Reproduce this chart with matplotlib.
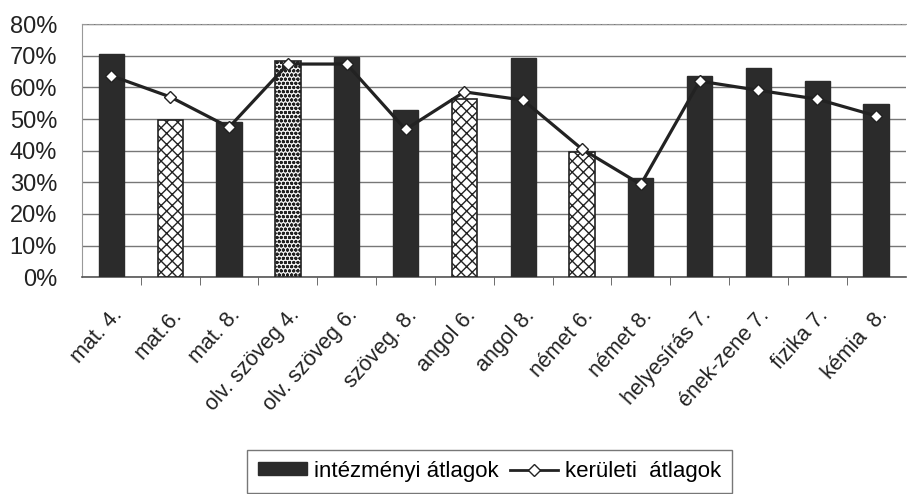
import matplotlib
matplotlib.use('Agg')
import matplotlib.pyplot as plt
import numpy as np
from matplotlib.ticker import FuncFormatter, FixedLocator
from matplotlib.lines import Line2D
from matplotlib.patches import Patch

plt.rcParams['font.family'] = ['Liberation Sans', 'DejaVu Sans']
plt.rcParams['hatch.linewidth'] = 1.0

categories = ['mat. 4.', 'mat.6.', 'mat. 8.', 'olv. szöveg 4.', 'olv. szöveg 6.',
              'szöveg. 8.', 'angol 6.', 'angol 8.', 'német 6.', 'német 8.',
              'helyesírás 7.', 'ének-zene 7.', 'fizika 7.', 'kémia  8.']
intezmenyi = [70.5, 49.6, 49.1, 68.3, 69.7, 53.0, 56.3, 69.4, 39.6, 31.2, 63.6, 66.0, 61.9, 54.7]
keruleti = [63.7, 57.0, 47.4, 67.4, 67.4, 46.7, 58.6, 56.0, 40.5, 29.3, 62.0, 59.1, 56.3, 51.0]
# bar fill style: 'solid', 'cross', 'dots'
styles = ['solid', 'cross', 'solid', 'dots', 'solid', 'solid', 'cross', 'solid',
          'cross', 'solid', 'solid', 'solid', 'solid', 'solid']

fig = plt.figure(figsize=(9.07, 4.94), dpi=100)
ax = fig.add_axes([0.0904, 0.439, 0.908, 0.512])

x = np.arange(len(categories))
dark = '#2b2b2b'
for xi, v, s in zip(x, intezmenyi, styles):
    if s == 'solid':
        ax.bar(xi, v, width=0.43, color=dark, edgecolor=dark, zorder=3)
    elif s == 'cross':
        ax.bar(xi, v, width=0.43, color='white', edgecolor='#222222', hatch='xxx', linewidth=1.2, zorder=3)
    else:
        ax.bar(xi, v, width=0.43, color='#f0f0f0', edgecolor='#222222', hatch='oooo', linewidth=1.2, zorder=3)

ax.plot(x, keruleti, color='#222222', linewidth=2.3, marker='D', markersize=6,
        markerfacecolor='white', markeredgecolor='#222222', markeredgewidth=1, zorder=4)

ax.set_xlim(-0.5, len(categories) - 0.5)
ax.set_ylim(0, 80)
ax.set_yticks(np.arange(0, 81, 10))
ax.yaxis.set_major_formatter(FuncFormatter(lambda v, p: f'{int(v)}%'))
ax.tick_params(axis='y', length=0, labelsize=17, pad=18, colors='#222222')
ax.grid(axis='y', color='#777777', linewidth=1, zorder=0)

ax.set_xticks(x)
ax.set_xticklabels(categories, rotation=48, ha='right', rotation_mode='anchor', fontsize=15.5)
ax.tick_params(axis='x', which='major', length=0, pad=20, colors='#222222')
ax.xaxis.set_minor_locator(FixedLocator(np.arange(0.5, len(categories) - 0.5, 1)))
ax.tick_params(axis='x', which='minor', length=6, direction='out', color='#555555')

ax.spines['right'].set_visible(False)
ax.spines['top'].set_color('#999999')
ax.spines['top'].set_linestyle((0, (4, 2)))
ax.spines['left'].set_color('#999999')
ax.spines['bottom'].set_color('#555555')
ax.spines['bottom'].set_linewidth(1.2)

handles = [Patch(facecolor=dark, edgecolor=dark),
           Line2D([0], [0], color='#222222', linewidth=2, marker='D', markersize=6,
                  markerfacecolor='white', markeredgecolor='#222222')]
fig.legend(handles, ['intézményi átlagok', 'kerületi  átlagok'], loc='lower center',
           bbox_to_anchor=(0.54, -0.02), ncol=2, fontsize=16, frameon=True, fancybox=False,
           edgecolor='#777777', handlelength=2.2, handleheight=0.5, handletextpad=0.3,
           columnspacing=0.5, borderpad=0.5, framealpha=1)

fig.savefig('out.png', dpi=100)
